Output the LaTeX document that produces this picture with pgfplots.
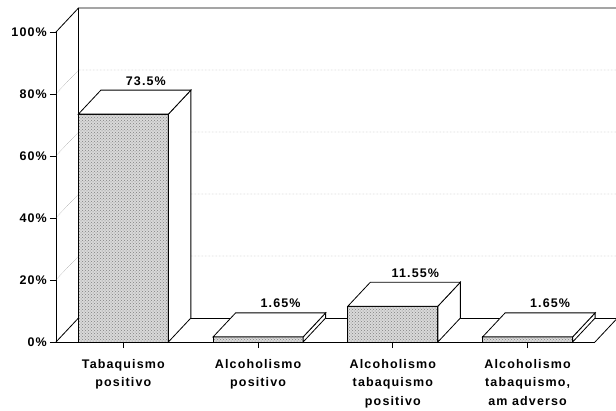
\documentclass[border=0pt]{standalone}
\usepackage{fontspec}
\setmainfont{Liberation Sans}[LetterSpace=9]
\usepackage{pgfplots}
\pgfplotsset{compat=1.18}
\usetikzlibrary{patterns}
\newcommand\lab{\fontsize{12.5}{18.5}\selectfont\bfseries}
\begin{document}
\begin{tikzpicture}[x=1pt,y=1pt]
\path[use as bounding box] (0,0) rectangle (616,410);
\begin{axis}[
  at={(56pt,68pt)}, anchor=south west,
  scale only axis, width=539pt, height=310pt,
  xmin=-0.5, xmax=3.5, ymin=0, ymax=100,
  axis x line*=bottom, axis y line*=left,
  axis line style={black, line width=0.8pt, -},
  tick align=outside, major tick length=6pt,
  tick style={black, line width=0.8pt},
  xtick={0,1,2,3},
  xticklabels={{Tabaquismo\\positivo},{Alcoholismo\\positivo},{Alcoholismo\\tabaquismo\\positivo},{Alcoholismo\\tabaquismo,\\am adverso}},
  xticklabel style={align=center, font=\lab, anchor=north, inner sep=0pt, yshift=-11pt},
  ytick={0,20,40,60,80,100},
  yticklabels={0\%,20\%,40\%,60\%,80\%,100\%},
  yticklabel style={font=\lab, anchor=east, inner sep=0pt, xshift=-3pt},
  clip=false,
]
% left wall grid diagonals and back wall gridlines
\draw[black!55, densely dotted] (axis cs:-0.5,20) -- ++(22.5pt,24pt) -- ++(537.5pt,0pt);
\draw[black!55, densely dotted] (axis cs:-0.5,40) -- ++(22.5pt,24pt) -- ++(537.5pt,0pt);
\draw[black!55, densely dotted] (axis cs:-0.5,60) -- ++(22.5pt,24pt) -- ++(537.5pt,0pt);
\draw[black!55, densely dotted] (axis cs:-0.5,80) -- ++(22.5pt,24pt) -- ++(537.5pt,0pt);
% frame
\draw[black, line width=0.8pt] (axis cs:-0.5,100) -- ++(22.5pt,24pt) -- ++(537.5pt,0pt);
\draw[black, line width=0.8pt] (axis cs:-0.5,0) -- ++(22.5pt,24pt) -- ++(0pt,310pt);
\draw[black, line width=0.8pt] (axis cs:-0.5,0) ++(22.5pt,24pt) -- ++(537.5pt,0pt);
\draw[black, line width=0.8pt] (axis cs:3.5,0) -- ++(22.5pt,24pt);
% front faces
\addplot[ybar, bar width=90pt, draw=black, line width=0.8pt, fill=black!15,
  postaction={pattern=crosshatch dots, pattern color=black!50}]
  coordinates {(0,73.5) (1,1.65) (2,11.55) (3,1.65)};
% top and side faces
\addplot[scatter, only marks, mark=*, mark size=0pt,
  visualization depends on={rawy \as \h},
  scatter/@pre marker code/.code={%
    \pgfmathsetmacro\hh{\h*3.1}%
    \filldraw[black, fill=white, line width=0.8pt] (45pt,0pt) -- (67.5pt,24pt) -- (67.5pt,24pt-\hh pt) -- (45pt,-\hh pt) -- cycle;
    \filldraw[black, fill=white, line width=0.8pt] (-45pt,0pt) -- (45pt,0pt) -- (67.5pt,24pt) -- (-22.5pt,24pt) -- cycle;
    \begin{scope}[opacity=0]},
  scatter/@post marker code/.code={\end{scope}},
  ]
  coordinates {(0,73.5) (1,1.65) (2,11.55) (3,1.65)};
% value labels
\addplot[draw=none, nodes near coords, point meta=explicit symbolic,
  every node near coord/.append style={font=\lab, anchor=base, inner sep=0pt, xshift=22.5pt, yshift=29pt}]
  coordinates {(0,73.5) [73.5\%] (1,1.65) [1.65\%] (2,11.55) [11.55\%] (3,1.65) [1.65\%]};
\end{axis}
\end{tikzpicture}
\end{document}
